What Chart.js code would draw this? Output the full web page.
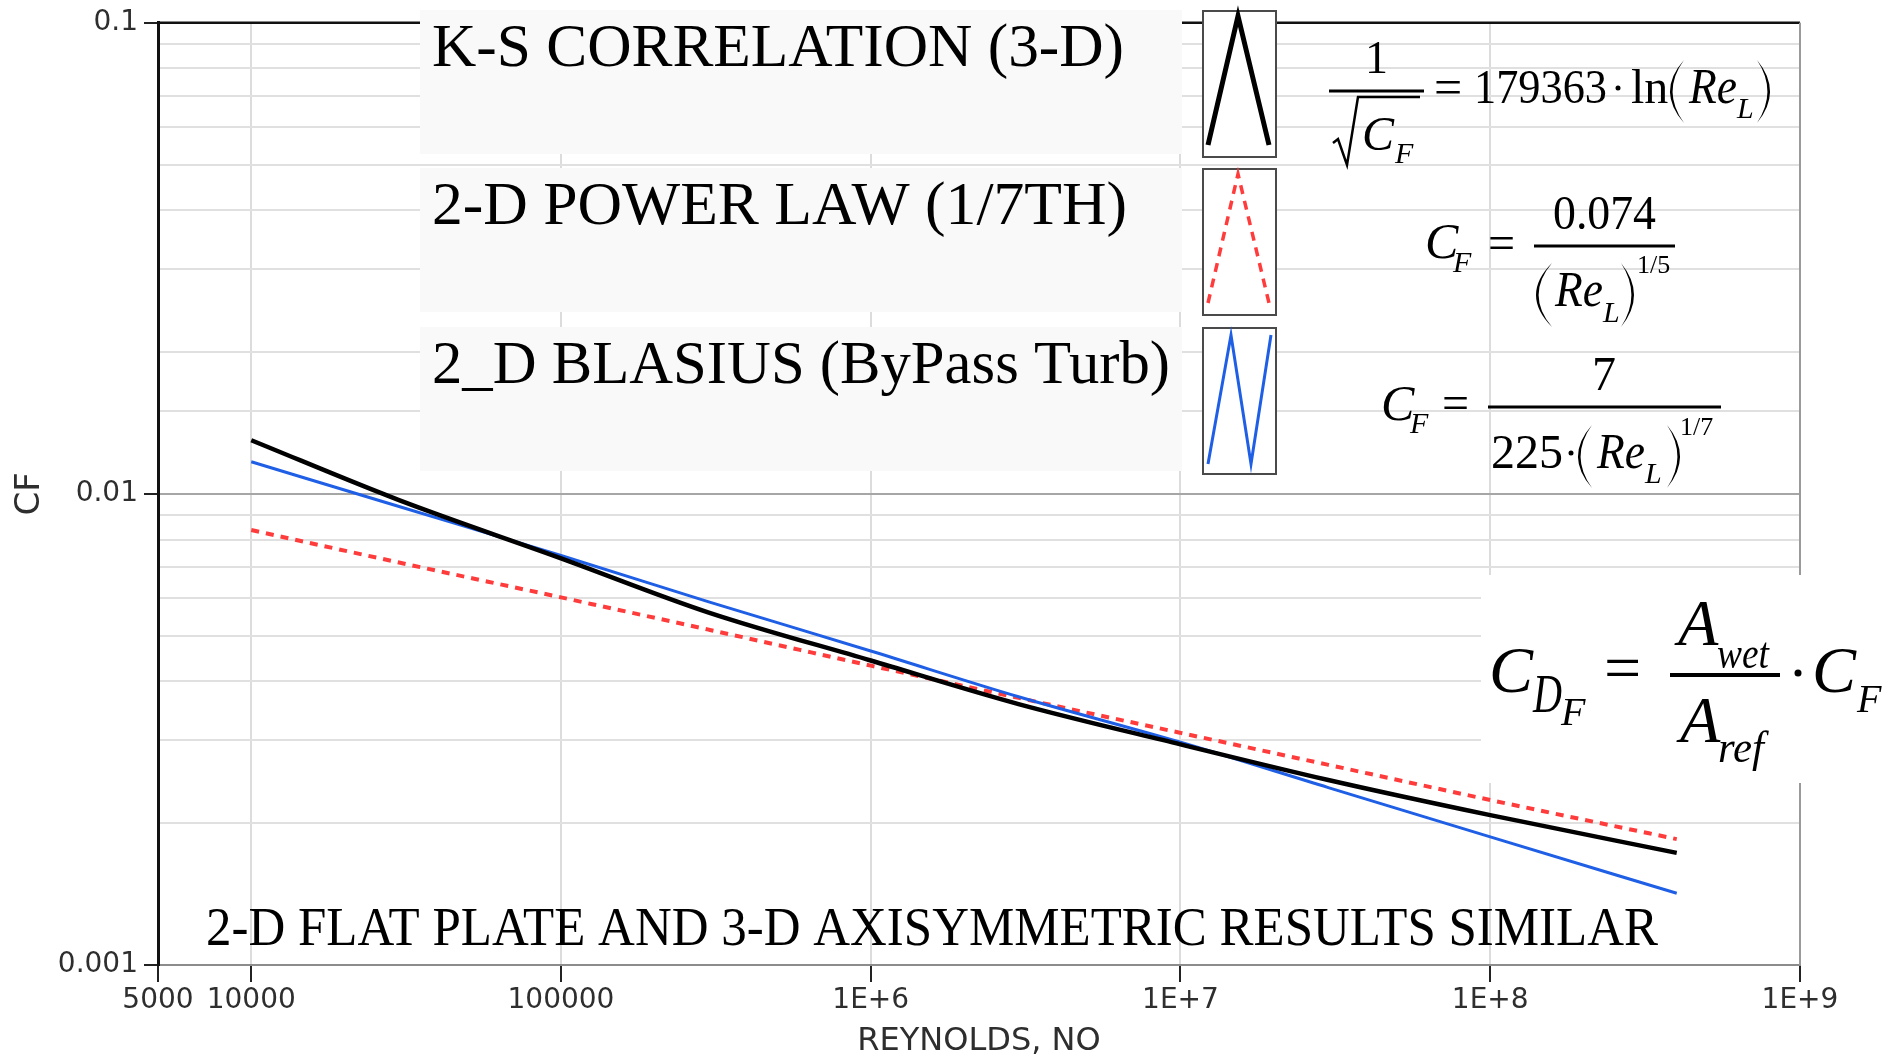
<!DOCTYPE html>
<html>
<head>
<meta charset="utf-8">
<title>Skin friction coefficient vs Reynolds number</title>
<script src="https://cdn.jsdelivr.net/npm/chart.js@4.4.1/dist/chart.umd.min.js"></script>
<style>
  html, body { margin: 0; padding: 0; background: #fff; }
  canvas { display: block; }
</style>
</head>
<body>
<canvas id="cf-chartID" width="1902" height="1061"></canvas>
<script>
// data
const reynolds = [1e4, 3e4, 1e5, 3e5, 1e6, 3e6, 1e7, 3e7, 1e8, 4e8];
const ksCf = [0.0130, 0.0097, 0.0073, 0.0056, 0.00443, 0.00358, 0.00294, 0.00247, 0.00208, 0.00173];
const powerLawCf = [0.00838, 0.00715, 0.00603, 0.00515, 0.00432, 0.00369, 0.00311, 0.00266, 0.00224, 0.00185];
const blasiusCf = [0.0117, 0.0094, 0.0074, 0.0059, 0.00464, 0.00371, 0.00297, 0.00238, 0.00187, 0.00142];

const seriesNames = ['K-S CORRELATION (3-D)', '2-D POWER LAW (1/7TH)', '2_D BLASIUS (ByPass Turb)'];
const seriesColors = ['#000000', '#ff3c3c', '#1f5fe6'];

const xTickValues = [5000, 1e4, 1e5, 1e6, 1e7, 1e8, 1e9];
const xTickLabels = ['5000', '10000', '100000', '1E+6', '1E+7', '1E+8', '1E+9'];
const yTickValues = [0.001, 0.01, 0.1];
const yTickLabels = ['0.001', '0.01', '0.1'];

const noteText = '2-D FLAT PLATE AND 3-D AXISYMMETRIC RESULTS SIMILAR';

const SERIF = '"Liberation Serif", "Times New Roman", serif';
const SANS = '"DejaVu Sans", Verdana, sans-serif';

function points(ys) {
    return reynolds.map((r, i) => ({ x: r, y: ys[i] }));
}

function isDecade(v) {
    const e = Math.log10(v);
    return Math.abs(e - Math.round(e)) < 1e-9;
}

function yLabel(v) {
    const k = yTickValues.findIndex(t => Math.abs(t - v) < 1e-12);
    return k >= 0 ? yTickLabels[k] : '';
}

// draw one piece of text, optionally squeezed into maxW
function txt(ctx, s, x, y, size, italic, maxW) {
    ctx.font = (italic ? 'italic ' : '') + size + 'px ' + SERIF;
    if (maxW) ctx.fillText(s, x, y, maxW);
    else ctx.fillText(s, x, y);
}

function bar(ctx, x1, y, x2, w) {
    ctx.lineWidth = w || 3;
    ctx.beginPath();
    ctx.moveTo(x1, y);
    ctx.lineTo(x2, y);
    ctx.stroke();
}

function dot(ctx, x, y, r) {
    ctx.beginPath();
    ctx.arc(x, y, r, 0, Math.PI * 2);
    ctx.fill();
}

// tall thin bracket as a filled crescent; left = true for "("
function paren(ctx, x0, x1, top, bottom, left) {
    const mid = (top + bottom) / 2;
    const tip = left ? x1 : x0;
    const bulge = left ? x0 : x1;
    const k = left ? 2.6 : -2.6;
    ctx.beginPath();
    ctx.moveTo(tip, top);
    ctx.quadraticCurveTo(2 * bulge - tip, mid, tip, bottom);
    ctx.quadraticCurveTo(2 * (bulge + k) - tip, mid, tip, top);
    ctx.fill();
}

// formulas printed over the plot: [text, x, baseline, size, italic, maxWidth]
const eqKS = [
    ['1', 1365, 73, 46, false],
    ['C', 1362, 150, 48, true], ['F', 1395, 163, 30, true],
    ['=', 1434, 104, 50, false, 30],
    ['179363', 1474, 103, 48, false, 133],
    ['ln', 1631, 103, 48, false, 39],
    ['Re', 1689, 103, 50, true, 48], ['L', 1737, 118, 30, true]
];
const eqPower = [
    ['C', 1425, 258, 50, true], ['F', 1453, 272, 30, true],
    ['=', 1488, 259, 48, false],
    ['0.074', 1553, 229, 48, false, 103],
    ['Re', 1555, 306, 50, true, 48], ['L', 1603, 322, 30, true],
    ['1/5', 1637, 273, 26, false]
];
const eqBlasius = [
    ['C', 1381, 420, 50, true], ['F', 1410, 433, 30, true],
    ['=', 1442, 419, 48, false],
    ['7', 1592, 390, 48, false],
    ['225', 1491, 468, 48, false, 73],
    ['Re', 1597, 468, 50, true, 48], ['L', 1645, 483, 30, true],
    ['1/7', 1680, 435, 26, false]
];
const eqParens = [
    [1670, 1684, 60, 123, true], [1757, 1770, 60, 123, false],
    [1536, 1552, 263, 327, true], [1621, 1634, 263, 327, false],
    [1578, 1592, 425, 488, true], [1667, 1680, 425, 488, false]
];
const eqDrag = [
    ['C', 1489, 692, 66, true], ['D', 1533, 712, 54, true, 29], ['F', 1561, 725, 40, true],
    ['=', 1604, 690, 66, false],
    ['A', 1678, 645, 66, true], ['wet', 1717, 668, 44, true, 52],
    ['A', 1680, 742, 66, true], ['ref', 1718, 762, 44, true, 46],
    ['C', 1812, 692, 66, true], ['F', 1857, 712, 40, true]
];

const overlay = {
    id: 'overlay',
    beforeDatasetsDraw(chart) {
        const { ctx, chartArea: a } = chart;
        ctx.save();
        // top and right frame of the plot box
        ctx.strokeStyle = '#111';
        ctx.lineWidth = 2.5;
        ctx.beginPath();
        ctx.moveTo(a.left, a.top);
        ctx.lineTo(a.right, a.top);
        ctx.stroke();
        ctx.strokeStyle = '#9a9a9a';
        ctx.lineWidth = 2;
        ctx.beginPath();
        ctx.moveTo(a.right, a.top);
        ctx.lineTo(a.right, a.bottom);
        ctx.stroke();
        ctx.restore();
    },
    afterDraw(chart) {
        const ctx = chart.ctx;
        ctx.save();
        ctx.textBaseline = 'alphabetic';
        ctx.textAlign = 'left';

        // legend: label panels and line samples
        const rows = [10, 168, 327];
        const labelWidths = [692, 695, 738];
        rows.forEach((top, i) => {
            ctx.fillStyle = '#f9f9f9';
            ctx.fillRect(420, top, 762, 144);
            ctx.fillStyle = '#000';
            txt(ctx, seriesNames[i], 432, top + 56, 62, false, labelWidths[i]);

            const bx = 1203, by = top + 1, bw = 73, bh = 146;
            ctx.fillStyle = '#fff';
            ctx.fillRect(bx, by, bw, bh);
            ctx.strokeStyle = '#4a4a4a';
            ctx.lineWidth = 2;
            ctx.strokeRect(bx, by, bw, bh);

            ctx.strokeStyle = seriesColors[i];
            ctx.beginPath();
            if (i === 2) {
                ctx.lineWidth = 3;
                ctx.moveTo(bx + 5, by + bh - 10);
                ctx.lineTo(bx + 28, by + 7);
                ctx.lineTo(bx + 48, by + bh - 10);
                ctx.lineTo(bx + 68, by + 7);
            } else {
                ctx.lineWidth = i === 0 ? 5 : 3.5;
                ctx.setLineDash(i === 1 ? [9, 7] : []);
                ctx.moveTo(bx + 5, by + bh - 12);
                ctx.lineTo(bx + 35, by + 5);
                ctx.lineTo(bx + 66, by + bh - 12);
            }
            ctx.stroke();
            ctx.setLineDash([]);
        });

        // formulas
        ctx.fillStyle = '#000';
        ctx.strokeStyle = '#000';
        [eqKS, eqPower, eqBlasius].forEach(eq => {
            eq.forEach(p => txt(ctx, p[0], p[1], p[2], p[3], p[4], p[5]));
        });
        eqParens.forEach(p => paren(ctx, p[0], p[1], p[2], p[3], p[4]));
        bar(ctx, 1329, 91, 1424, 3);
        ctx.lineWidth = 2.5;
        ctx.beginPath();
        ctx.moveTo(1333, 143);
        ctx.lineTo(1338, 139);
        ctx.lineTo(1347, 165);
        ctx.lineTo(1358, 97);
        ctx.lineTo(1420, 97);
        ctx.stroke();
        dot(ctx, 1618, 88, 2.5);
        bar(ctx, 1534, 246, 1675, 3);
        bar(ctx, 1488, 407, 1721, 3);
        dot(ctx, 1571, 453, 2.5);

        // drag coefficient box
        ctx.fillStyle = '#fff';
        ctx.fillRect(1481, 575, 421, 208);
        ctx.fillStyle = '#000';
        eqDrag.forEach(p => txt(ctx, p[0], p[1], p[2], p[3], p[4], p[5]));
        bar(ctx, 1670, 675, 1780, 4);
        dot(ctx, 1798, 673, 3.5);

        // note at the bottom of the plot
        txt(ctx, noteText, 206, 945, 54, false, 1452);
        ctx.restore();
    }
};

let canvas = document.querySelector('#cf-chartID');
let context = canvas.getContext('2d');

let cfChart = new Chart(context, {
    type: 'line',
    data: {
        datasets: [
            {
                label: seriesNames[0],
                data: points(ksCf),
                borderColor: seriesColors[0],
                borderWidth: 4.5,
                order: 1
            },
            {
                label: seriesNames[2],
                data: points(blasiusCf),
                borderColor: seriesColors[2],
                borderWidth: 3,
                order: 2
            },
            {
                label: seriesNames[1],
                data: points(powerLawCf),
                borderColor: seriesColors[1],
                borderWidth: 4,
                borderDash: [8, 7],
                order: 3
            }
        ]
    },
    options: {
        responsive: false,
        devicePixelRatio: 1,
        animation: false,
        layout: { padding: { left: 0, top: 16, right: 102, bottom: 0 } },
        elements: {
            point: { radius: 0 },
            line: { tension: 0.3, cubicInterpolationMode: 'monotone', fill: false }
        },
        plugins: {
            legend: { display: false },
            tooltip: { enabled: false }
        },
        scales: {
            x: {
                type: 'logarithmic',
                min: 5000,
                max: 1e9,
                afterBuildTicks: (s) => { s.ticks = xTickValues.map(v => ({ value: v })); },
                afterFit: (s) => { s.height = 96; },
                ticks: {
                    autoSkip: false,
                    maxRotation: 0,
                    padding: 2,
                    color: '#2e2e2e',
                    font: { family: SANS, size: 28 },
                    callback: (v, i) => xTickLabels[i]
                },
                grid: { color: '#dcdcdc', lineWidth: 2, tickLength: 17, tickColor: '#222', tickWidth: 2 },
                border: { color: '#8c8c8c', width: 2 },
                title: {
                    display: true,
                    text: 'REYNOLDS, NO',
                    color: '#2e2e2e',
                    font: { family: SANS, size: 32 },
                    padding: { top: 0, bottom: 0 }
                }
            },
            y: {
                type: 'logarithmic',
                min: 0.001,
                max: 0.1,
                afterFit: (s) => { s.width = 158; },
                ticks: {
                    autoSkip: false,
                    padding: 6,
                    color: '#2e2e2e',
                    font: { family: SANS, size: 28 },
                    callback: (v) => yLabel(v)
                },
                grid: {
                    color: (c) => isDecade(c.tick.value) ? '#a6a6a6' : '#e0e0e0',
                    lineWidth: 2,
                    tickLength: 14,
                    tickWidth: 2,
                    tickColor: (c) => isDecade(c.tick.value) ? '#222' : 'rgba(0,0,0,0)'
                },
                border: { color: '#111', width: 3 },
                title: {
                    display: true,
                    text: 'CF',
                    color: '#2e2e2e',
                    font: { family: SANS, size: 34 },
                    padding: { top: 10, bottom: 0 }
                }
            }
        }
    },
    plugins: [overlay]
});
</script>
</body>
</html>
